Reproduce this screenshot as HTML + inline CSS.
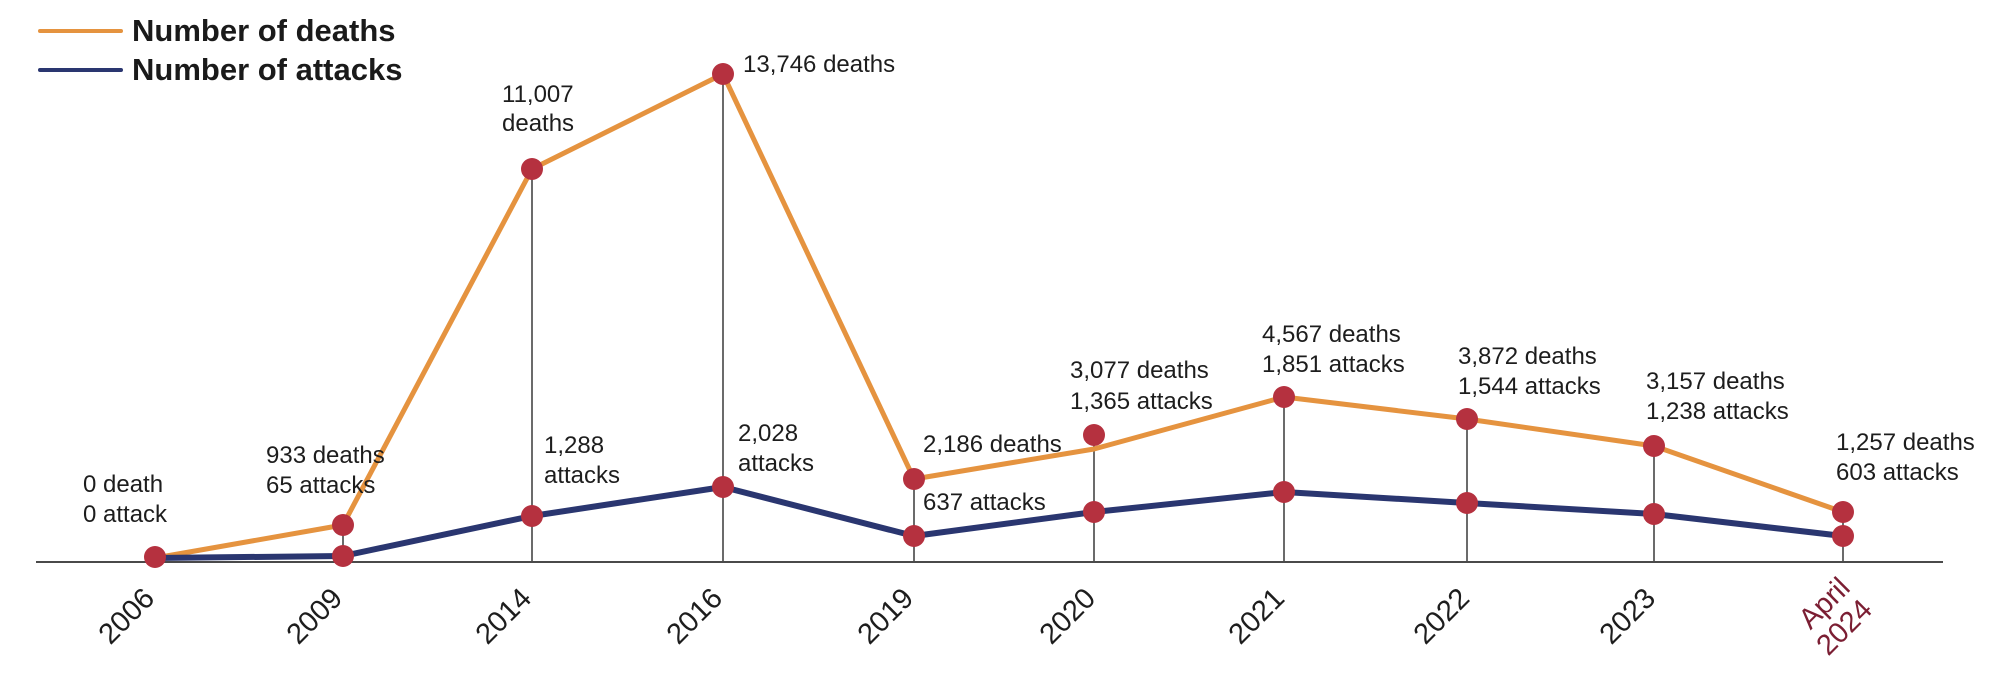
<!DOCTYPE html>
<html>
<head>
<meta charset="utf-8">
<style>
  html, body { margin: 0; padding: 0; background: #ffffff; }
  svg { display: block; }
  .ann { font-family: "Liberation Sans", sans-serif; font-size: 24px; fill: #1d1d1d; }
  .tick { font-family: "Liberation Sans", sans-serif; font-size: 29px; fill: #1d1d1d; }
  .tickr { font-family: "Liberation Sans", sans-serif; font-size: 29px; fill: #7B1E33; }
  .leg { font-family: "Liberation Sans", sans-serif; font-size: 31px; font-weight: bold; fill: #1a1a1a; }
</style>
</head>
<body>
<svg width="1994" height="678" viewBox="0 0 1994 678" xmlns="http://www.w3.org/2000/svg">
  <!-- Legend -->
  <line x1="40" y1="31" x2="121" y2="31" stroke="#E5933F" stroke-width="4" stroke-linecap="round"/>
  <line x1="40" y1="70" x2="121" y2="70" stroke="#2A3670" stroke-width="4" stroke-linecap="round"/>
  <text class="leg" x="132" y="41">Number of deaths</text>
  <text class="leg" x="132" y="80">Number of attacks</text>

  <!-- Vertical guide lines -->
  <g stroke="#6b6b6b" stroke-width="2">
    <line x1="343" y1="525" x2="343" y2="562"/>
    <line x1="532" y1="169" x2="532" y2="562"/>
    <line x1="723" y1="74" x2="723" y2="562"/>
    <line x1="914" y1="479" x2="914" y2="562"/>
    <line x1="1094" y1="435" x2="1094" y2="562"/>
    <line x1="1284" y1="397" x2="1284" y2="562"/>
    <line x1="1467" y1="419" x2="1467" y2="562"/>
    <line x1="1654" y1="446" x2="1654" y2="562"/>
    <line x1="1843" y1="512" x2="1843" y2="562"/>
  </g>

  <!-- Axis -->
  <line x1="36" y1="562" x2="1943" y2="562" stroke="#4a4a4a" stroke-width="2"/>

  <!-- Deaths line -->
  <polyline fill="none" stroke="#E5933F" stroke-width="5" stroke-linejoin="round"
    points="155,558 343,525 532,169 723,74 914,479 1094,449 1284,397 1467,419 1654,446 1843,512"/>
  <!-- Attacks line -->
  <polyline fill="none" stroke="#2A3670" stroke-width="6" stroke-linejoin="round"
    points="155,558 343,556 532,516 723,487 914,536 1094,512 1284,492 1467,503 1654,514 1843,536"/>

  <!-- Dots -->
  <g fill="#B5313F">
    <circle cx="155" cy="557" r="11"/>
    <circle cx="343" cy="525" r="11"/>
    <circle cx="343" cy="556" r="11"/>
    <circle cx="532" cy="169" r="11"/>
    <circle cx="532" cy="516" r="11"/>
    <circle cx="723" cy="74" r="11"/>
    <circle cx="723" cy="487" r="11"/>
    <circle cx="914" cy="479" r="11"/>
    <circle cx="914" cy="536" r="11"/>
    <circle cx="1094" cy="435" r="11"/>
    <circle cx="1094" cy="512" r="11"/>
    <circle cx="1284" cy="397" r="11"/>
    <circle cx="1284" cy="492" r="11"/>
    <circle cx="1467" cy="419" r="11"/>
    <circle cx="1467" cy="503" r="11"/>
    <circle cx="1654" cy="446" r="11"/>
    <circle cx="1654" cy="514" r="11"/>
    <circle cx="1843" cy="512" r="11"/>
    <circle cx="1843" cy="536" r="11"/>
  </g>

  <!-- Annotations -->
  <text class="ann" x="83" y="492">0 death</text>
  <text class="ann" x="83" y="522">0 attack</text>
  <text class="ann" x="266" y="463">933 deaths</text>
  <text class="ann" x="266" y="493">65 attacks</text>
  <text class="ann" x="502" y="102">11,007</text>
  <text class="ann" x="502" y="131">deaths</text>
  <text class="ann" x="743" y="72">13,746 deaths</text>
  <text class="ann" x="544" y="453">1,288</text>
  <text class="ann" x="544" y="483">attacks</text>
  <text class="ann" x="738" y="441">2,028</text>
  <text class="ann" x="738" y="471">attacks</text>
  <text class="ann" x="923" y="452">2,186 deaths</text>
  <text class="ann" x="923" y="510">637 attacks</text>
  <text class="ann" x="1070" y="378">3,077 deaths</text>
  <text class="ann" x="1070" y="409">1,365 attacks</text>
  <text class="ann" x="1262" y="342">4,567 deaths</text>
  <text class="ann" x="1262" y="372">1,851 attacks</text>
  <text class="ann" x="1458" y="364">3,872 deaths</text>
  <text class="ann" x="1458" y="394">1,544 attacks</text>
  <text class="ann" x="1646" y="389">3,157 deaths</text>
  <text class="ann" x="1646" y="419">1,238 attacks</text>
  <text class="ann" x="1836" y="450">1,257 deaths</text>
  <text class="ann" x="1836" y="480">603 attacks</text>

  <!-- Tick labels -->
  <text class="tick" text-anchor="end" transform="translate(156,600) rotate(-45)">2006</text>
  <text class="tick" text-anchor="end" transform="translate(344,600) rotate(-45)">2009</text>
  <text class="tick" text-anchor="end" transform="translate(533,600) rotate(-45)">2014</text>
  <text class="tick" text-anchor="end" transform="translate(724,600) rotate(-45)">2016</text>
  <text class="tick" text-anchor="end" transform="translate(915,600) rotate(-45)">2019</text>
  <text class="tick" text-anchor="end" transform="translate(1097,600) rotate(-45)">2020</text>
  <text class="tick" text-anchor="end" transform="translate(1286,600) rotate(-45)">2021</text>
  <text class="tick" text-anchor="end" transform="translate(1471,600) rotate(-45)">2022</text>
  <text class="tick" text-anchor="end" transform="translate(1657,600) rotate(-45)">2023</text>
  <text class="tickr" text-anchor="middle" transform="translate(1831,610) rotate(-45)">April</text>
  <text class="tickr" text-anchor="middle" transform="translate(1851,634) rotate(-45)">2024</text>
</svg>
</body>
</html>
